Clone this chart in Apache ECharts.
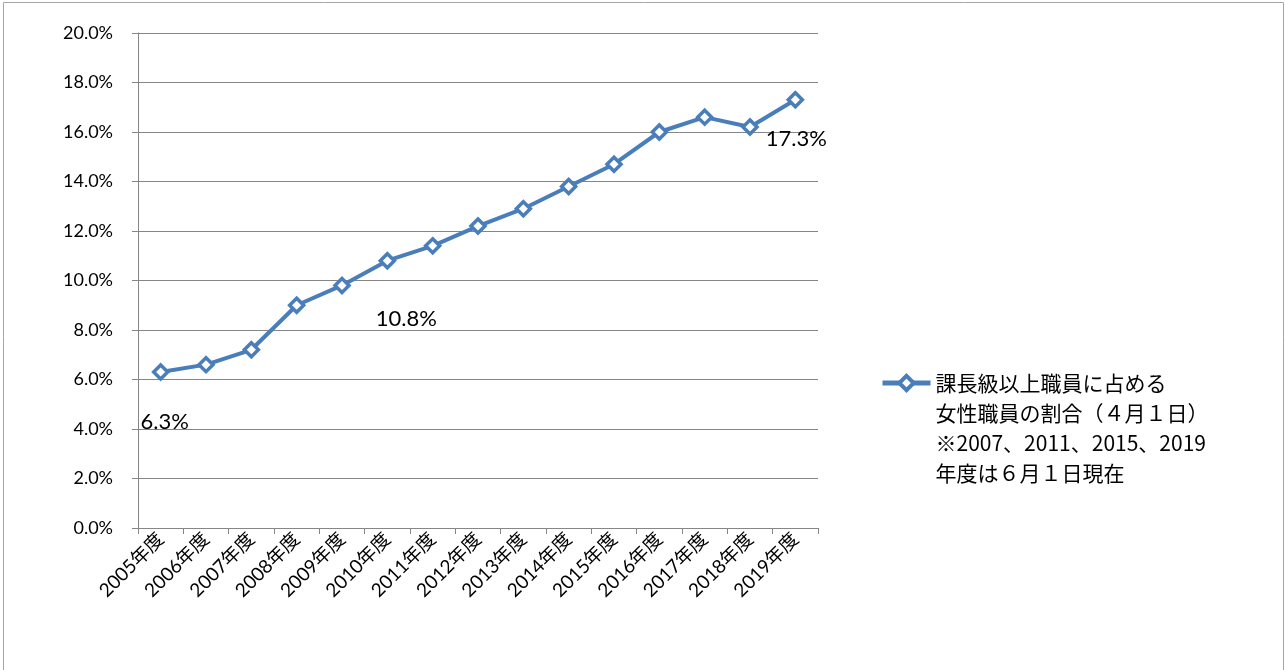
<!DOCTYPE html>
<html>
<head>
<meta charset="utf-8">
<script src="https://cdn.jsdelivr.net/npm/echarts@6/dist/echarts.min.js"></script>
<style>
  html, body { margin: 0; padding: 0; background: #fff; }
  #chart { width: 1285px; height: 670px; }
</style>
</head>
<body>
<div id="chart"></div>
<script>
// 年度
var years = ['2005年度','2006年度','2007年度','2008年度','2009年度','2010年度','2011年度','2012年度','2013年度','2014年度','2015年度','2016年度','2017年度','2018年度','2019年度'];
// 課長級以上職員に占める女性職員の割合(%)
var ratios = [6.3, 6.6, 7.2, 9.0, 9.8, 10.8, 11.4, 12.2, 12.9, 13.8, 14.7, 16.0, 16.6, 16.2, 17.3];
// ラベルを表示する年度
var labelYears = ['2005年度', '2010年度', '2019年度'];
var labelOffsets = [[4, 50], [19, 58], [1, 39]];

var seriesName = '課長級以上職員に占める';
var legendLines = ['課長級以上職員に占める', '女性職員の割合（４月１日）', '※2007、2011、2015、2019', '年度は６月１日現在'];

;(function(){
    var chart = echarts.init(document.getElementById('chart'));
    var numFont = 'Lato, "Noto Sans CJK JP", sans-serif';
    var jpFont = '"Noto Sans CJK JP", sans-serif';

    var seriesData = ratios.map(function(v, i){
        var k = labelYears.indexOf(years[i]);
        if (k < 0) return v;
        return {
            value: v,
            label: {
                show: true,
                position: 'inside',
                offset: labelOffsets[k],
                formatter: function(p){ return p.value.toFixed(1) + '%'; },
                color: '#000',
                fontSize: 22,
                fontFamily: numFont
            }
        };
    });

    var option = {
        animation: false,
        color: ['#4a7ebb'],
        grid: {
            left: 138,
            right: 467,
            top: 33,
            bottom: 142
        },
        legend: {
            left: 880,
            top: 278,
            padding: 0,
            itemWidth: 48,
            itemHeight: 18,
            itemGap: 0,
            lineStyle: { width: 5 },
            itemStyle: { borderWidth: 4 },
            // 先頭に空行を入れて1行目をアイコンの高さに合わせる
            formatter: function(){ return '\n\n\n' + legendLines.join('\n'); },
            textStyle: {
                fontSize: 21,
                fontFamily: jpFont,
                color: '#000',
                lineHeight: 30
            },
            data: [seriesName]
        },
        graphic: [{
            type: 'rect',
            shape: { x: 3.5, y: 2.5, width: 1280, height: 700 },
            style: { fill: 'none', stroke: '#a6a6a6', lineWidth: 1 },
            silent: true
        }],
        xAxis: {
            type: 'category',
            data: years,
            boundaryGap: true,
            axisLine: { lineStyle: { color: '#868686', width: 1 } },
            axisTick: { show: true, length: 6, interval: 0, lineStyle: { color: '#868686' } },
            axisLabel: {
                interval: 0,
                rotate: 45,
                margin: 8,
                fontSize: 19,
                fontFamily: numFont,
                color: '#000'
            }
        },
        yAxis: {
            type: 'value',
            min: 0,
            max: 20,
            interval: 2,
            axisLine: { show: true, lineStyle: { color: '#868686', width: 1 } },
            axisTick: { show: true, length: 6, lineStyle: { color: '#868686' } },
            splitLine: { lineStyle: { color: '#868686', width: 1 } },
            axisLabel: {
                margin: 25,
                fontSize: 18,
                fontFamily: numFont,
                color: '#000',
                formatter: function(v){ return v.toFixed(1) + '%'; }
            }
        },
        series: [{
            name: seriesName,
            type: 'line',
            data: seriesData,
            symbol: 'diamond',
            symbolSize: 14,
            showAllSymbol: true,
            lineStyle: { width: 4, color: '#4a7ebb' },
            itemStyle: { color: '#fff', borderColor: '#4a7ebb', borderWidth: 3.5 }
        }]
    };

    chart.setOption(option);
})()
</script>
</body>
</html>
